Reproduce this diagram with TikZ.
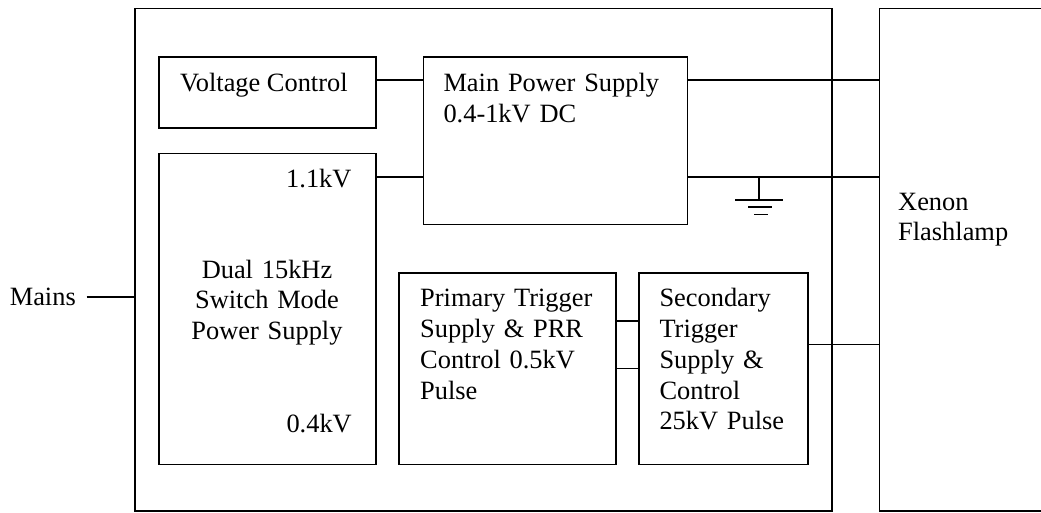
\documentclass[tikz,border=0pt]{standalone}
\usepackage{fontspec}
\setmainfont{Liberation Serif}
\begin{document}
\begin{tikzpicture}[x=1pt,y=-1pt,
  box/.style={draw,line width=1.6pt,inner sep=0pt,outer sep=0pt,anchor=north west},
  wire/.style={line width=1.6pt},
  txt/.style={inner sep=0pt,font=\fontsize{26.4pt}{30.8pt}\selectfont},
  mtxt/.style={txt,text width=280pt,align=left,anchor=base west}]
\useasboundingbox (0,0) rectangle (1041,512);
\clip (0,0) rectangle (1041,512);
% boxes
\node[box,minimum width=696.7pt,minimum height=502.5pt] (ctrl) at (135,8.5) {};
\node[box,minimum width=260pt,minimum height=502.7pt] (xenon) at (879.3,8.3) {};
\node[box,minimum width=216.7pt,minimum height=71.3pt] (vc) at (159,56.7) {};
\node[box,minimum width=264pt,minimum height=167.3pt] (mps) at (423.3,57) {};
\node[box,minimum width=216.7pt,minimum height=311pt] (dual) at (159,153.3) {};
\node[box,minimum width=217pt,minimum height=191.6pt] (prim) at (399,272.7) {};
\node[box,minimum width=169pt,minimum height=191.6pt] (sec) at (639,272.7) {};
% texts
\node[txt,anchor=base west] (vct) at (180,91.7) {Voltage Control};
\node[mtxt] (mpst) at (443.3,91.7) {Main Power Supply\\0.4-1kV DC};
\node[txt,anchor=base east] (hv) at (351.7,187) {1.1kV};
\node[txt,text width=220pt,align=center,anchor=base] (dualt) at (267,278) {Dual 15kHz\\Switch Mode\\Power Supply};
\node[txt,anchor=base east] (lv) at (352,432.7) {0.4kV};
\node[mtxt] (primt) at (420,306.7) {Primary Trigger\\Supply \& PRR\\Control 0.5kV\\Pulse};
\node[mtxt] (sect) at (659.3,306.7) {Secondary\\Trigger\\Supply \&\\Control\\25kV Pulse};
\node[mtxt] (xent) at (898,210) {Xenon\\Flashlamp};
\node[txt,inner xsep=10.7pt,inner ysep=0pt,anchor=base east] (mains) at (86.7,305) {Mains};
% levels
\coordinate (r1) at (0,80);
\coordinate (r2) at (0,176.7);
\coordinate (r3) at (0,320.7);
\coordinate (r4) at (0,368.3);
\coordinate (r5) at (0,344.3);
\coordinate (r6) at (0,296.7);
% connectors
\draw[wire] (vc.east |- r1) -- (mps.west |- r1);
\draw[wire] (dual.east |- r2) -- (mps.west |- r2);
\draw[wire] (mps.east |- r1) -- (xenon.west |- r1);
\draw[wire] (mps.east |- r2) -- (xenon.west |- r2);
\draw[wire] (prim.east |- r3) -- (sec.west |- r3);
\draw[wire] (prim.east |- r4) -- (sec.west |- r4);
\draw[wire] (sec.east |- r5) -- (xenon.west |- r5);
\draw[wire] (mains.east |- r6) -- (ctrl.west |- r6);
% ground
\coordinate (gnd) at (759,176.7);
\draw[wire] (gnd) -- ++(0,23.3) coordinate (gb);
\draw[wire] (gb) ++(-24,0) -- ++(48.3,0);
\draw[wire] (gb) ++(-10.7,6.7) -- ++(23.4,0);
\draw[wire] (gb) ++(-4.7,14.3) -- ++(13.4,0);
\end{tikzpicture}
\end{document}
